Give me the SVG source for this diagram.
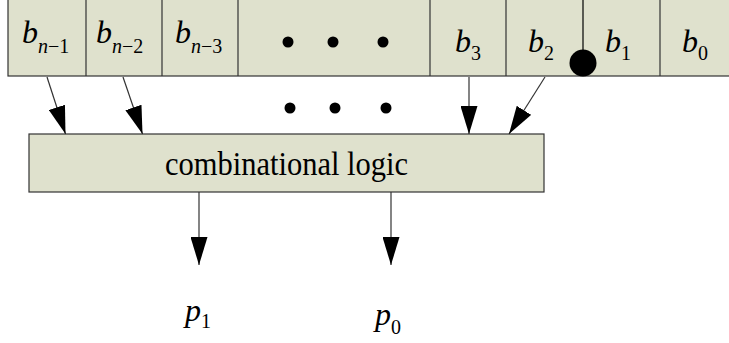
<svg xmlns="http://www.w3.org/2000/svg" width="729" height="343" viewBox="0 0 729 343">
<style>
.cell{fill:#dfe1cd;stroke:#333;stroke-width:1.2}
.b{font-family:"Liberation Serif",serif;font-style:italic;font-size:32px;fill:#000}
.s{font-family:"Liberation Serif",serif;font-style:normal;font-size:20px;fill:#000}
.si{font-style:italic}
.lbl{font-family:"Liberation Serif",serif;font-size:33px;fill:#000}
.conn{stroke:#333;stroke-width:1.2;fill:none;marker-end:url(#ah)}
</style>
<defs>
<marker id="ah" markerUnits="userSpaceOnUse" viewBox="0 0 28 17" refX="28" refY="8.5" markerWidth="28" markerHeight="17" orient="auto">
<path d="M0,0 L28,8.5 L0,17 Z" fill="#000"/>
</marker>
</defs>
<g id="register">
<rect class="cell" x="8" y="-1" width="740" height="77"/>
<line x1="86" y1="0" x2="86" y2="76" stroke="#333" stroke-width="1.2"/>
<line x1="162" y1="0" x2="162" y2="76" stroke="#333" stroke-width="1.2"/>
<line x1="238" y1="0" x2="238" y2="76" stroke="#333" stroke-width="1.2"/>
<line x1="430" y1="0" x2="430" y2="76" stroke="#333" stroke-width="1.2"/>
<line x1="506" y1="0" x2="506" y2="76" stroke="#333" stroke-width="1.2"/>
<line x1="660" y1="0" x2="660" y2="76" stroke="#333" stroke-width="1.2"/>
</g>
<g id="bit-n-1"><text class="b" x="22" y="43">b<tspan class="s" dy="10"><tspan class="si">n</tspan>−1</tspan></text></g>
<g id="bit-n-2"><text class="b" x="96" y="43">b<tspan class="s" dy="10"><tspan class="si">n</tspan>−2</tspan></text></g>
<g id="bit-n-3"><text class="b" x="175" y="43">b<tspan class="s" dy="10"><tspan class="si">n</tspan>−3</tspan></text></g>
<g id="ellipsis-top">
<circle cx="288" cy="42" r="5.5"/>
<circle cx="333" cy="42" r="5.5"/>
<circle cx="383" cy="42" r="5.5"/>
</g>
<g id="bit-3"><text class="b" x="455" y="52">b<tspan class="s" dy="8">3</tspan></text></g>
<g id="bit-2"><text class="b" x="528" y="52">b<tspan class="s" dy="8">2</tspan></text></g>
<g id="bit-1"><text class="b" x="605" y="52">b<tspan class="s" dy="8">1</tspan></text></g>
<g id="bit-0"><text class="b" x="682" y="52">b<tspan class="s" dy="8">0</tspan></text></g>
<g id="probe">
<line x1="583" y1="0" x2="583" y2="63" stroke="#000" stroke-width="1.2"/>
<circle cx="583" cy="63" r="13.5" fill="#000"/>
</g>
<g id="ellipsis-mid">
<circle cx="290" cy="108" r="5.5"/>
<circle cx="335" cy="108" r="5.5"/>
<circle cx="386" cy="108" r="5.5"/>
</g>
<g id="logic">
<rect class="cell" x="29" y="134" width="515" height="58"/>
<text class="lbl" x="165" y="175" textLength="243" lengthAdjust="spacingAndGlyphs">combinational logic</text>
</g>
<g id="connectors">
<line class="conn" x1="47" y1="77" x2="65.5" y2="134"/>
<line class="conn" x1="123" y1="77" x2="142.5" y2="134"/>
<line class="conn" x1="469" y1="77" x2="469" y2="134"/>
<line class="conn" x1="545" y1="77" x2="509" y2="134"/>
<line class="conn" x1="199" y1="192" x2="199" y2="265"/>
<line class="conn" x1="391" y1="192" x2="391" y2="265"/>
</g>
<g id="p1"><text class="b" x="185" y="321" font-size="28">p<tspan class="s" dy="7" font-size="20">1</tspan></text></g>
<g id="p0"><text class="b" x="375" y="325" font-size="34">p<tspan class="s" dy="9" font-size="25">0</tspan></text></g>
</svg>
